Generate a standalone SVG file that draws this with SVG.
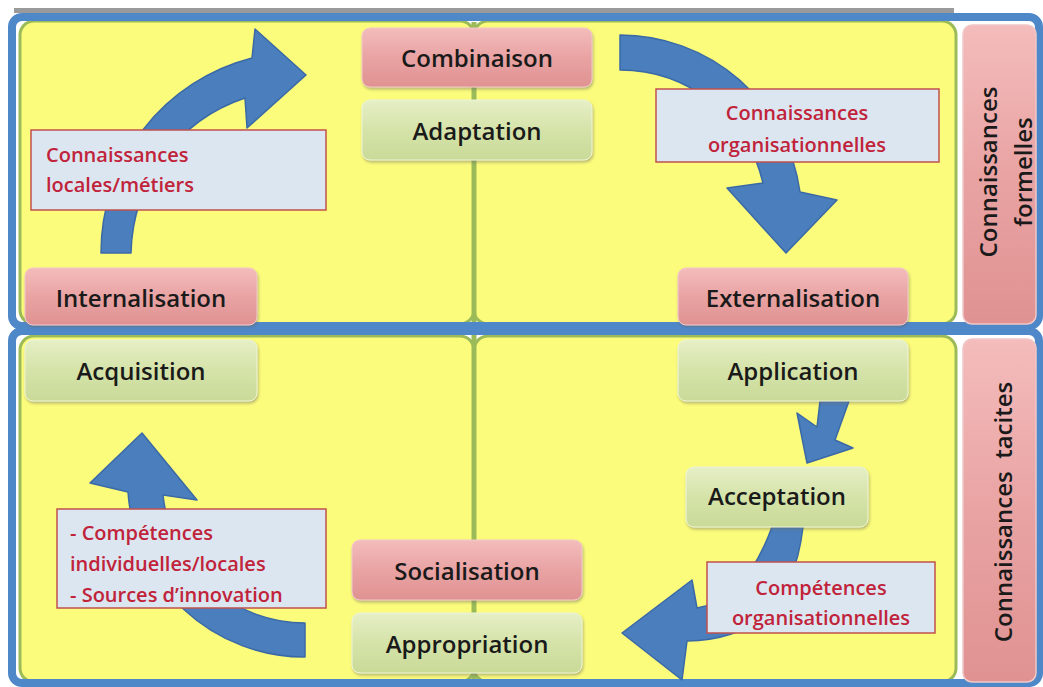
<svg xmlns="http://www.w3.org/2000/svg" width="1043" height="687" viewBox="0 0 1043 687">
<defs>
<linearGradient id="gPink" x1="0" y1="0" x2="0" y2="1">
<stop offset="0" stop-color="#f4bcbc"/><stop offset="0.5" stop-color="#e9a3a3"/><stop offset="1" stop-color="#e09292"/>
</linearGradient>
<linearGradient id="gGreen" x1="0" y1="0" x2="0" y2="1">
<stop offset="0" stop-color="#e6efc6"/><stop offset="0.5" stop-color="#d5e3a9"/><stop offset="1" stop-color="#c9da98"/>
</linearGradient>
<filter id="sh" x="-10%" y="-10%" width="120%" height="130%">
<feDropShadow dx="1" dy="2" stdDeviation="1.5" flood-color="#666" flood-opacity="0.45"/>
</filter>
</defs>
<style>
.frame{fill:none;stroke:#4f88c9;stroke-width:8}
.panel{fill:#fcfc7c;stroke:#9bbb59;stroke-width:3}
.divider{stroke:#9bbb59;stroke-width:5}
.side{fill:url(#gPink);stroke:#f0c8c8;stroke-width:1.5}
.pink{fill:url(#gPink);stroke:#f3c9c9;stroke-width:1;filter:url(#sh)}
.green{fill:url(#gGreen);stroke:#eef4d8;stroke-width:1;filter:url(#sh)}
.lbl{fill:#dce6f1;stroke:#c0504d;stroke-width:1.5}
.arrow{fill:#4a7ebc;stroke:#3b69a6;stroke-width:1.5;stroke-linejoin:round}
.t{font-family:"Open Sans","DejaVu Sans",sans-serif;font-weight:600;font-size:24px;fill:#1a1a1a;text-anchor:middle}
.r{font-family:"Open Sans","DejaVu Sans",sans-serif;font-weight:600;font-size:20px;fill:#c0233a}
.mid{text-anchor:middle}
</style>
<rect x="0" y="0" width="1043" height="687" fill="#ffffff"/>
<rect x="14" y="8" width="940" height="5" fill="#9a9a9a"/>
<g id="panels">
<rect class="panel" x="20" y="21" width="454" height="303" rx="14"/>
<rect class="panel" x="474" y="21" width="482" height="303" rx="14"/>
<rect class="panel" x="20" y="336" width="454" height="346" rx="14"/>
<rect class="panel" x="474" y="336" width="482" height="346" rx="14"/>
<line class="divider" x1="474" y1="22" x2="474" y2="682"/>
</g>
<g id="frames">
<rect class="frame" x="12" y="17" width="1027" height="309" rx="10"/>
<rect class="frame" x="12" y="331" width="1027" height="352" rx="10"/>
</g>
<g id="side-formelles">
<rect class="side" x="963" y="25" width="73" height="299" rx="9"/>
<text class="t" transform="translate(1000,172) rotate(-90)" x="0" y="-3">Connaissances</text>
<text class="t" transform="translate(1000,172) rotate(-90)" x="0" y="32">formelles</text>
</g>
<g id="side-tacites">
<rect class="side" x="963" y="339" width="73" height="343" rx="9"/>
<text class="t" transform="translate(1012,512) rotate(-90)" x="0" y="0" xml:space="preserve">Connaissances  tacites</text>
</g>
<g id="connectors">
<path class="arrow" d="M101,253 A201,201 0 0 1 252,58 L255,29 L306,75 L247,128 L245,98 A167,167 0 0 0 131,253 Z"/>
<path class="arrow" d="M620,35 A182,182 0 0 1 800,192 L837,200 L786,253 L727,188 L763,183 A147,147 0 0 0 620,70 Z"/>
<path class="arrow" d="M305,657 A177,177 0 0 1 128,492 L90,483 L142,433 L197,500 L163,495 A143,143 0 0 0 305,623 Z"/>
<path class="arrow" d="M820,401 L849,401 L835,440 L853,448 L807,463 L797,413 L817,427 Z"/>
<path class="arrow" d="M772,527 L803,527 Q790,640 687,641 L682,680 L622,633 L692,580 L697,608 Q745,600 772,527 Z"/>
</g>
<g id="label-locales">
<rect class="lbl" x="31" y="130" width="295" height="80"/>
<text class="r" x="46" y="162">Connaissances</text>
<text class="r" x="46" y="192">locales/métiers</text>
</g>
<g id="label-orga">
<rect class="lbl" x="656" y="89" width="283" height="73"/>
<text class="r mid" x="797" y="120">Connaissances</text>
<text class="r mid" x="797" y="152">organisationnelles</text>
</g>
<g id="label-competences">
<rect class="lbl" x="57" y="509" width="269" height="99"/>
<text class="r" x="70" y="540">- Compétences</text>
<text class="r" x="70" y="571">individuelles/locales</text>
<text class="r" x="70" y="602">- Sources d’innovation</text>
</g>
<g id="label-comp-orga">
<rect class="lbl" x="707" y="562" width="228" height="71"/>
<text class="r mid" x="821" y="595">Compétences</text>
<text class="r mid" x="821" y="625">organisationnelles</text>
</g>
<g id="combinaison"><rect class="pink" x="362" y="28" width="230" height="59" rx="8"/><text class="t" x="477" y="67">Combinaison</text></g>
<g id="adaptation"><rect class="green" x="362" y="100" width="230" height="60" rx="8"/><text class="t" x="477" y="140">Adaptation</text></g>
<g id="internalisation"><rect class="pink" x="25" y="268" width="232" height="57" rx="8"/><text class="t" x="141" y="307">Internalisation</text></g>
<g id="externalisation"><rect class="pink" x="678" y="268" width="230" height="57" rx="8"/><text class="t" x="793" y="307">Externalisation</text></g>
<g id="acquisition"><rect class="green" x="25" y="340" width="232" height="61" rx="8"/><text class="t" x="141" y="380">Acquisition</text></g>
<g id="application"><rect class="green" x="678" y="340" width="230" height="61" rx="8"/><text class="t" x="793" y="380">Application</text></g>
<g id="acceptation"><rect class="green" x="686" y="467" width="182" height="60" rx="8"/><text class="t" x="777" y="505">Acceptation</text></g>
<g id="socialisation"><rect class="pink" x="352" y="540" width="230" height="60" rx="8"/><text class="t" x="467" y="580">Socialisation</text></g>
<g id="appropriation"><rect class="green" x="352" y="613" width="230" height="60" rx="8"/><text class="t" x="467" y="653">Appropriation</text></g>
</svg>
